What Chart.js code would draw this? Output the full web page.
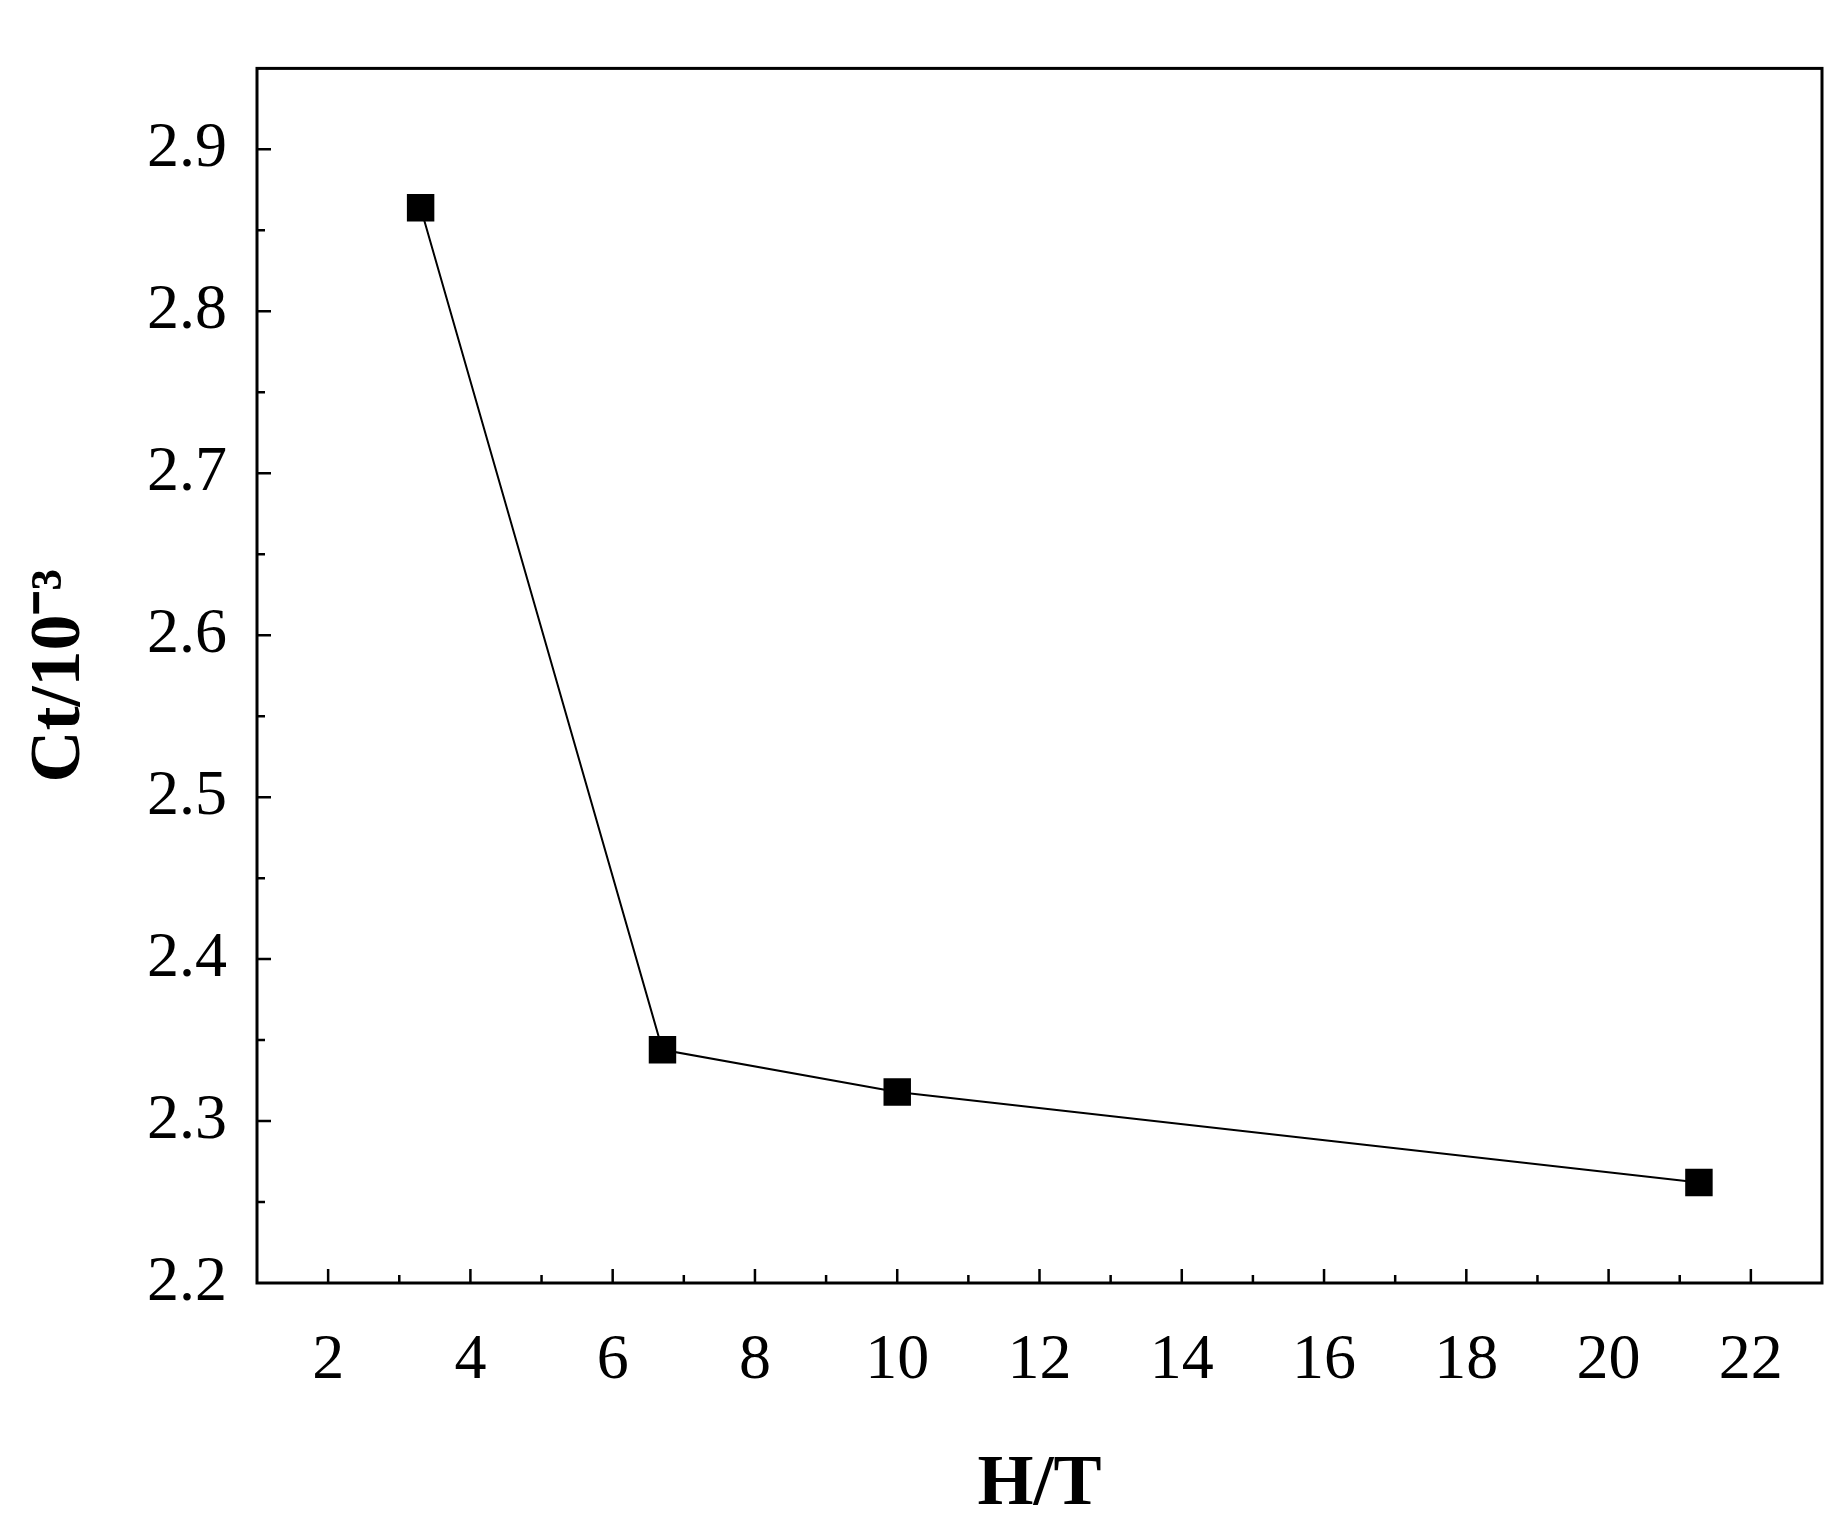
<!DOCTYPE html>
<html><head><meta charset="utf-8">
<script src="https://cdn.jsdelivr.net/npm/chart.js@4"></script>
<style>html,body{margin:0;padding:0;background:#fff}#wrap{width:1843px;height:1528px}</style>
</head><body><div id="wrap"><canvas id="c"></canvas></div>
<script>
const xValues=[3.3,6.7,10.0,21.27];
const ctValues=[2.864,2.344,2.318,2.262];
const xTicks=[2,4,6,8,10,12,14,16,18,20,22];
const yTicks=[2.2,2.3,2.4,2.5,2.6,2.7,2.8,2.9];
const xTitle='H/T';
const yTitle='Ct/10⁻³';
const FONT='"Liberation Serif","Times New Roman",serif';

const deco={id:'deco',afterDraw(ch){
  const c=ch.ctx,a=ch.chartArea,xs=ch.scales.x,ys=ch.scales.y;
  c.save();c.strokeStyle='#000';c.lineWidth=3;
  c.strokeRect(a.left,a.top,a.right-a.left,a.bottom-a.top);
  c.lineWidth=2.5;c.beginPath();
  for(let v=1;v<=23;v++){const p=xs.getPixelForValue(v);if(p<=a.left+1||p>=a.right-1)continue;
    const L=(v%2===0)?14:8;c.moveTo(p,a.bottom);c.lineTo(p,a.bottom-L);}
  for(let i=0;i<=15;i++){const v=2.2+i*0.05;const p=ys.getPixelForValue(v);if(p<=a.top+1||p>=a.bottom-1)continue;
    const L=(i%2===0)?14:8;c.moveTo(a.left,p);c.lineTo(a.left+L,p);}
  c.stroke();
  c.fillStyle='#000';c.font='bold 72px '+FONT;c.textAlign='center';c.textBaseline='middle';
  c.fillText(xTitle,(a.left+a.right)/2,1485);
  c.translate(60,(a.top+a.bottom)/2);c.rotate(-Math.PI/2);c.fillText(yTitle,0,0);
  c.restore();}};

new Chart(document.getElementById('c'),{
  type:'scatter',
  data:{datasets:[{data:xValues.map((x,i)=>({x,y:ctValues[i]})),showLine:true,
    borderColor:'#000',borderWidth:2,backgroundColor:'#000',pointStyle:'rect',pointRadius:18,pointHoverRadius:18}]},
  options:{responsive:true,maintainAspectRatio:false,animation:false,
    layout:{padding:{top:23,right:21,left:0,bottom:0}},
    plugins:{legend:{display:false},tooltip:{enabled:false}},
    scales:{
      x:{type:'linear',min:1,max:23,afterBuildTicks:s=>{s.ticks=xTicks.map(v=>({value:v}));},
        afterFit:s=>{s.height=245;},
        grid:{display:false,drawTicks:false},border:{display:false},
        ticks:{font:{family:FONT,size:64},color:'#000',padding:40,maxRotation:0,autoSkip:false}},
      y:{type:'linear',min:2.2,max:2.95,afterBuildTicks:s=>{s.ticks=yTicks.map(v=>({value:v}));},
        afterFit:s=>{s.width=257;},
        grid:{display:false,drawTicks:false},border:{display:false},
        ticks:{font:{family:FONT,size:64},color:'#000',padding:30,autoSkip:false,callback:v=>v.toFixed(1)}}
    }},
  plugins:[deco]});
</script></body></html>
